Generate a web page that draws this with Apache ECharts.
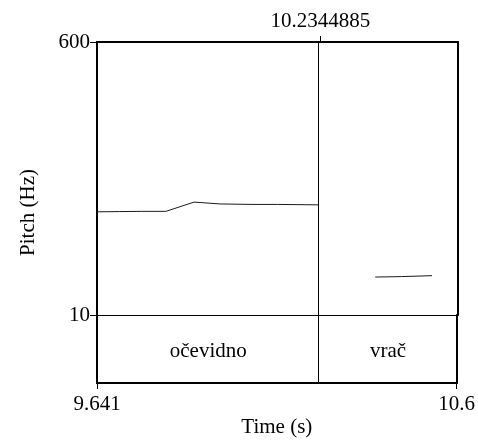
<!DOCTYPE html>
<html><head><meta charset="utf-8">
<script src="https://cdn.jsdelivr.net/npm/echarts@6/dist/echarts.min.js"></script>
<style>html,body{margin:0;padding:0;background:#fff}#c{width:478px;height:444px}</style>
</head><body><div id="c"></div>
<script>
const timeMin = 9.641, timeMax = 10.6;
const pitchMin = 10, pitchMax = 600;
const boundary = 10.2344885;
const pitchSeg1 = [[9.641,233],[9.70,233.5],[9.76,234],[9.824,234],[9.899,254],[9.968,250],[10.05,249],[10.12,249],[10.231,248]];
const pitchSeg2 = [[10.380,92],[10.45,93],[10.531,95]];
const tierIntervals = [[9.641,10.2344885,'očevidno'],[10.2344885,10.6,'vrač']];
const yTicks = [10, 600];
const xTicks = [9.641, 10.6];

const font = 'Liberation Serif, Times New Roman, serif';
const txt = {color:'#000', fontFamily:font, fontSize:21};
const L = 97, R = 20, T = 42, H1 = 273, H2 = 68;

const chart = echarts.init(document.getElementById('c'), null, {renderer:'canvas'});
const lineStyle2 = {color:'#000', width:2};
chart.setOption({
  animation:false,
  grid:[
    {left:L, right:R, top:T, height:H1},
    {left:L, right:R, top:T+H1, height:H2},
    {left:L, right:R, top:T, height:H1+H2}
  ],
  xAxis:[
    {gridIndex:0, type:'value', position:'top', min:timeMin, max:timeMax,
     axisLine:{show:true, lineStyle:lineStyle2},
     axisTick:{show:true, inside:false, length:6, customValues:[boundary], lineStyle:{color:'#000', width:1}},
     axisLabel:{show:true, customValues:[boundary], formatter:v=>String(boundary), margin:10, ...txt},
     splitLine:{show:false}},
    {gridIndex:0, type:'value', position:'bottom', min:timeMin, max:timeMax,
     axisLine:{show:true, lineStyle:{color:'#000', width:1}},
     axisTick:{show:false}, axisLabel:{show:false}, splitLine:{show:false}},
    {gridIndex:1, type:'value', position:'bottom', min:timeMin, max:timeMax,
     axisLine:{show:true, lineStyle:lineStyle2},
     axisTick:{show:true, inside:false, length:6, customValues:xTicks, lineStyle:{color:'#000', width:1}},
     axisLabel:{show:true, customValues:xTicks, margin:11, formatter:v=>String(v), ...txt},
     splitLine:{show:false},
     name:'Time (s)', nameLocation:'middle', nameGap:34, nameTextStyle:txt},
    {gridIndex:2, type:'value', min:timeMin, max:timeMax, show:false}
  ],
  yAxis:[
    {gridIndex:0, type:'value', position:'left', min:pitchMin, max:pitchMax,
     axisLine:{show:true, lineStyle:lineStyle2},
     axisTick:{show:true, inside:false, length:7, customValues:yTicks, lineStyle:{color:'#000', width:1}},
     axisLabel:{show:true, customValues:yTicks, margin:7, ...txt},
     splitLine:{show:false}},
    {gridIndex:0, type:'value', position:'right', min:pitchMin, max:pitchMax,
     axisLine:{show:true, lineStyle:lineStyle2}, axisTick:{show:false}, axisLabel:{show:false}, splitLine:{show:false}},
    {gridIndex:1, type:'value', position:'left', min:0, max:1,
     axisLine:{show:true, lineStyle:lineStyle2}, axisTick:{show:false}, axisLabel:{show:false}, splitLine:{show:false}},
    {gridIndex:1, type:'value', position:'right', min:0, max:1,
     axisLine:{show:true, lineStyle:lineStyle2}, axisTick:{show:false}, axisLabel:{show:false}, splitLine:{show:false}},
    {gridIndex:2, type:'value', position:'left', min:0, max:1,
     axisLine:{show:false}, axisTick:{show:false}, axisLabel:{show:false}, splitLine:{show:false},
     name:'Pitch (Hz)', nameLocation:'middle', nameGap:58, nameTextStyle:txt}
  ],
  series:[
    {type:'line', xAxisIndex:0, yAxisIndex:0, data:pitchSeg1, showSymbol:false, lineStyle:{color:'#1a1a1a', width:1},
     markLine:{silent:true, symbol:'none', label:{show:false}, lineStyle:{color:'#000', width:1, type:'solid'}, data:[{xAxis:boundary}]}},
    {type:'line', xAxisIndex:0, yAxisIndex:0, data:pitchSeg2, showSymbol:false, lineStyle:{color:'#1a1a1a', width:1}},
    {type:'scatter', xAxisIndex:2, yAxisIndex:2, symbolSize:0, itemStyle:{opacity:1, color:'#000'},
     data:tierIntervals.map(d=>({value:[(d[0]+d[1])/2, 0.5], name:d[2]})),
     label:{show:true, position:'inside', offset:[0,2], formatter:p=>p.name, ...txt},
     markLine:{silent:true, symbol:'none', label:{show:false}, lineStyle:{color:'#000', width:1, type:'solid'}, data:[{xAxis:boundary}]}}
  ]
});
</script></body></html>
